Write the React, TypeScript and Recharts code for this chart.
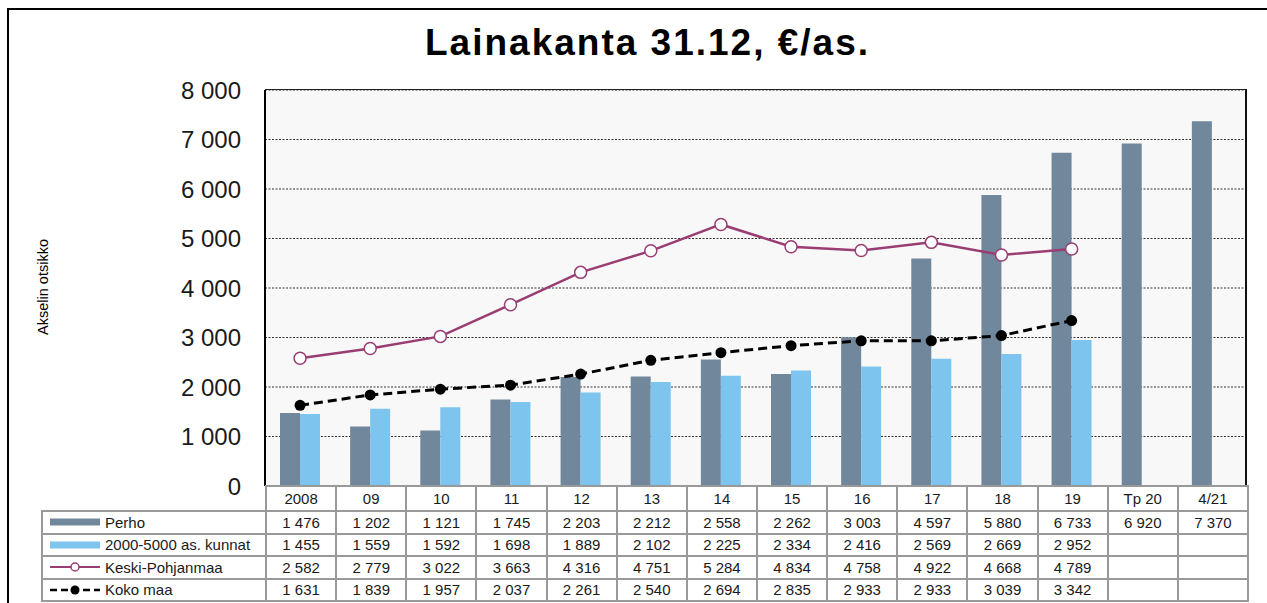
import { ComposedChart, Bar, Line, YAxis, XAxis, CartesianGrid } from "recharts";

const categories = ["2008", "09", "10", "11", "12", "13", "14", "15", "16", "17", "18", "19", "Tp 20", "4/21"];
const perho = [1476, 1202, 1121, 1745, 2203, 2212, 2558, 2262, 3003, 4597, 5880, 6733, 6920, 7370];
const kunnat = [1455, 1559, 1592, 1698, 1889, 2102, 2225, 2334, 2416, 2569, 2669, 2952, null, null];
const keskiPohjanmaa = [2582, 2779, 3022, 3663, 4316, 4751, 5284, 4834, 4758, 4922, 4668, 4789, null, null];
const kokoMaa = [1631, 1839, 1957, 2037, 2261, 2540, 2694, 2835, 2933, 2933, 3039, 3342, null, null];
const yTicks = [0, 1000, 2000, 3000, 4000, 5000, 6000, 7000, 8000];

const data = categories.map((c, i) => ({
  cat: c,
  perho: perho[i],
  kunnat: kunnat[i],
  kp: keskiPohjanmaa[i],
  koko: kokoMaa[i],
}));

const C_PERHO = "#71879c";
const C_KUNNAT = "#7dc4ee";
const C_KP = "#993d73";
const FONT = "'Liberation Sans', Arial, sans-serif";

const fmt = (v: number | null) =>
  v == null ? "" : String(v).replace(/\B(?=(\d{3})+(?!\d))/g, " ");

// plot rect
const PL = 265, PR = 1247, PT = 90, PB = 486;

const rows = [
  { name: "Perho", values: perho, icon: "bar", color: C_PERHO },
  { name: "2000-5000 as. kunnat", values: kunnat, icon: "bar", color: C_KUNNAT },
  { name: "Keski-Pohjanmaa", values: keskiPohjanmaa, icon: "line", color: C_KP },
  { name: "Koko maa", values: kokoMaa, icon: "dash", color: "#000" },
];

function Icon({ kind, color }: { kind: string; color: string }) {
  return (
    <svg width={52} height={12} style={{ display: "block" }}>
      {kind === "bar" && <rect x={1} y={2.5} width={50} height={7} fill={color} />}
      {kind === "line" && (
        <>
          <line x1={1} x2={51} y1={6} y2={6} stroke={color} strokeWidth={2} />
          <circle cx={26} cy={6} r={4} fill="#fff" stroke={color} strokeWidth={1.5} />
        </>
      )}
      {kind === "dash" && (
        <>
          <line x1={1} x2={51} y1={6} y2={6} stroke={color} strokeWidth={2.5} strokeDasharray="7 4" />
          <circle cx={26} cy={6} r={4.5} fill={color} />
        </>
      )}
    </svg>
  );
}

const cellBorder = "2px solid #999";
const colW = (PR - PL) / categories.length;

export default function App() {
  return (
    <div style={{ position: "absolute", left: 0, top: 0, width: 1267, height: 603, overflow: "hidden", background: "#fff", fontFamily: FONT }}>
      <div style={{ position: "absolute", left: 7, top: 8, width: 1280, height: 620, borderLeft: "2px solid #000", borderTop: "2px solid #000" }} />
      <div style={{ position: "absolute", left: 425, top: 24, fontSize: 37, fontWeight: "bold", lineHeight: 1, letterSpacing: 2, color: "#000", whiteSpace: "nowrap" }}>
        Lainakanta 31.12, €/as.
      </div>
      <div style={{ position: "absolute", left: 43, top: 287, fontSize: 14.5, color: "#000", transform: "translate(-50%, -50%) rotate(-90deg)", whiteSpace: "nowrap" }}>
        Akselin otsikko
      </div>

      <div style={{ position: "absolute", left: 0, top: 0 }}>
        <ComposedChart
          width={1267}
          height={603}
          data={data}
          margin={{ top: PT, right: 1267 - PR, bottom: 603 - PB, left: PL - 100 }}
          barGap={0}
        >
          <CartesianGrid vertical={false} fill="#f8f8f8" stroke="#333" strokeDasharray="2 1.5" strokeWidth={1} />
          <XAxis dataKey="cat" hide />
          <YAxis
            width={100}
            domain={[0, 8000]}
            ticks={yTicks}
            interval={0}
            tickFormatter={(v: number) => fmt(v)}
            tick={{ fontSize: 24, fill: "#1a1a1a", fontFamily: FONT }}
            tickLine={false}
            tickSize={0}
            tickMargin={24}
            axisLine={{ stroke: "#000", strokeWidth: 2 }}
          />
          <Bar dataKey="perho" fill={C_PERHO} barSize={20} isAnimationActive={false} />
          <Bar dataKey="kunnat" fill={C_KUNNAT} barSize={20} isAnimationActive={false} />
          <Line
            dataKey="kp"
            stroke={C_KP}
            strokeWidth={2.5}
            dot={{ r: 6, fill: "#fff", stroke: C_KP, strokeWidth: 1.5 }}
            activeDot={false}
            isAnimationActive={false}
          />
          <Line
            dataKey="koko"
            stroke="#000"
            strokeWidth={3}
            strokeDasharray="9 5"
            dot={{ r: 5.5, fill: "#000", stroke: "#000", strokeWidth: 0 }}
            activeDot={false}
            isAnimationActive={false}
          />
        </ComposedChart>
      </div>

      <div style={{ position: "absolute", left: PL, top: PT - 1, width: PR - PL, height: PB - PT, borderTop: "1.5px solid #222", borderRight: "2px solid #111", boxSizing: "border-box", pointerEvents: "none" }} />

      <table
        style={{
          position: "absolute",
          left: 41,
          top: 485,
          width: PR - 41 + 1,
          borderCollapse: "collapse",
          tableLayout: "fixed",
          fontSize: 15,
          color: "#1a1a1a",
          fontFamily: FONT,
        }}
      >
        <colgroup>
          <col style={{ width: PL - 41 }} />
          {categories.map((c) => (
            <col key={c} style={{ width: colW }} />
          ))}
        </colgroup>
        <tbody>
          <tr style={{ height: 25 }}>
            <td style={{ border: "none", padding: 0 }} />
            {categories.map((c) => (
              <td key={c} style={{ border: cellBorder, textAlign: "center", padding: 0 }}>
                {c}
              </td>
            ))}
          </tr>
          {rows.map((r) => (
            <tr key={r.name} style={{ height: 22.5 }}>
              <td style={{ border: cellBorder, padding: "0 0 0 6px", whiteSpace: "nowrap" }}>
                <div style={{ display: "flex", alignItems: "center", gap: 4 }}>
                  <Icon kind={r.icon} color={r.color} />
                  <span>{r.name}</span>
                </div>
              </td>
              {r.values.map((v, i) => (
                <td key={i} style={{ border: cellBorder, textAlign: "center", padding: 0 }}>
                  {fmt(v)}
                </td>
              ))}
            </tr>
          ))}
        </tbody>
      </table>
    </div>
  );
}
